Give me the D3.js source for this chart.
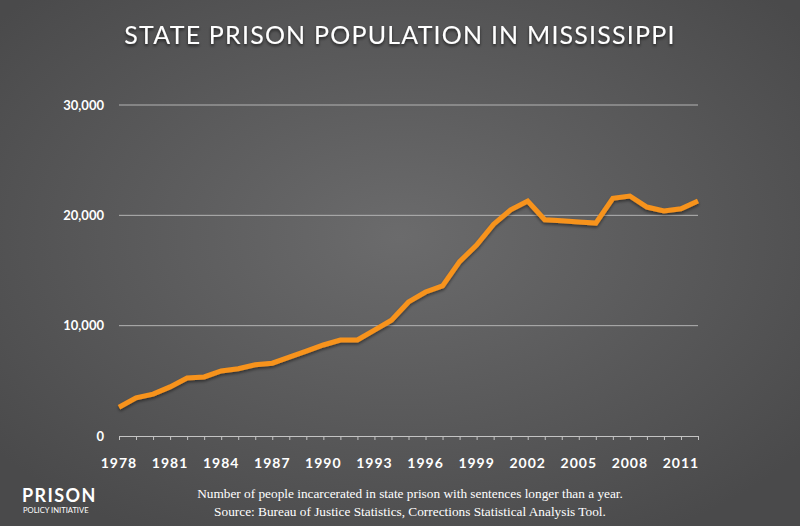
<!DOCTYPE html>
<html><head><meta charset="utf-8">
<script src="https://cdn.jsdelivr.net/npm/d3@7"></script>
<style>body{margin:0;background:#555;}svg{display:block;}</style>
</head><body>
<svg id="c" width="800" height="526"></svg>
<script>
const years = d3.range(1978, 2013);
const population = [2600,3450,3800,4450,5250,5350,5900,6100,6450,6600,7150,7700,8250,8700,8700,9600,10500,12150,13050,13600,15800,17300,19200,20500,21300,19600,19500,19400,19300,21550,21750,20750,20400,20600,21300];
const yTicks = [0,10000,20000,30000];
const xTickLabels = [1978,1981,1984,1987,1990,1993,1996,1999,2002,2005,2008,2011];
const title = "STATE PRISON POPULATION IN MISSISSIPPI";
const notes = ["Number of people incarcerated in state prison with sentences longer than a year.","Source: Bureau of Justice Statistics, Corrections Statistical Analysis Tool."];

const svg = d3.select("#c");
const defs = svg.append("defs");
const rg = defs.append("radialGradient").attr("id","bg").attr("cx","50%").attr("cy","45%").attr("r","65%");
rg.append("stop").attr("offset","0%").attr("stop-color","#6b6b6c");
rg.append("stop").attr("offset","100%").attr("stop-color","#4a4a4b");
const f = defs.append("filter").attr("id","sh").attr("x","-10%").attr("y","-10%").attr("width","120%").attr("height","130%");
f.append("feDropShadow").attr("dx",0).attr("dy",2).attr("stdDeviation",1.5).attr("flood-color","#000").attr("flood-opacity",0.45);
const ft = defs.append("filter").attr("id","tsh");
ft.append("feDropShadow").attr("dx",0).attr("dy",2).attr("stdDeviation",1.5).attr("flood-color","#000").attr("flood-opacity",0.6);

svg.append("rect").attr("width",800).attr("height",526).attr("fill","url(#bg)");

const x = d3.scaleLinear().domain([1978,2012]).range([119,698]);
const y = d3.scaleLinear().domain([0,30000]).range([436,105]);

// gridlines
svg.append("g").selectAll("line").data(yTicks.filter(d=>d>0)).join("line")
  .attr("x1",119).attr("x2",698).attr("y1",d=>y(d)).attr("y2",d=>y(d))
  .attr("stroke","#b4b4b4").attr("stroke-width",1);

// y labels
svg.append("g").selectAll("text").data(yTicks).join("text")
  .attr("x",104).attr("y",d=>y(d)+4.5).attr("text-anchor","end")
  .attr("fill","#fff").attr("font-family","Lato, 'Open Sans', sans-serif").attr("font-weight","bold").attr("font-size",13)
  .text(d=>d3.format(",")(d));

// x axis
const xAxis = d3.axisBottom(x).tickValues(years).tickSize(4).tickFormat("");
const gx = svg.append("g").attr("transform","translate(0,436)").call(xAxis);
gx.select(".domain").attr("stroke","#c4c4c4").attr("d","M119,0.5H698");
gx.selectAll(".tick line").attr("stroke","#c4c4c4");
svg.append("g").selectAll("text").data(xTickLabels).join("text")
  .attr("x",d=>x(d)).attr("y",468).attr("text-anchor","middle")
  .attr("fill","#fff").attr("font-family","Lato, 'Open Sans', sans-serif").attr("font-weight","bold").attr("font-size",14).attr("letter-spacing",1)
  .text(d=>d);

// line
const line = d3.line().x((d,i)=>x(years[i])).y(d=>y(d));
svg.append("path").datum(population).attr("d",line).attr("fill","none")
  .attr("stroke","#f7931e").attr("stroke-width",5).attr("stroke-linejoin","miter").attr("filter","url(#sh)");

// title
svg.append("text").attr("x",400).attr("y",44).attr("text-anchor","middle")
  .attr("fill","#fff").attr("font-family","Lato, 'Open Sans', sans-serif").attr("font-size",25).attr("letter-spacing",1.2)
  .attr("filter","url(#tsh)").text(title);

// notes
svg.append("g").selectAll("text").data(notes).join("text")
  .attr("x",410).attr("y",(d,i)=>498+i*18).attr("text-anchor","middle")
  .attr("fill","#fff").attr("font-family","'Liberation Serif', 'DejaVu Serif', serif").attr("font-size",13.3)
  .text(d=>d);

// logo
svg.append("text").attr("x",22).attr("y",502).attr("fill","#fff")
  .attr("font-family","Lato, sans-serif").attr("font-weight","bold").attr("font-size",18).attr("letter-spacing",1.4).text("PRISON");
svg.append("text").attr("x",23).attr("y",513).attr("fill","#fff")
  .attr("font-family","Lato, sans-serif").attr("font-size",7.6).text("POLICY INITIATIVE");
</script>
</body></html>
